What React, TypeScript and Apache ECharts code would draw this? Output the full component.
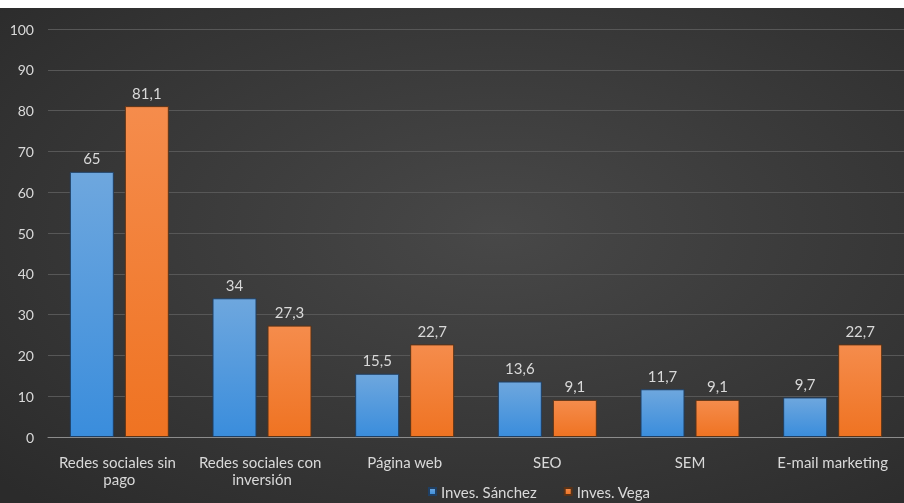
import React, { useEffect, useRef } from "react";
import * as echarts from "echarts";

const categories = [
  "Redes sociales sin pago",
  "Redes sociales con inversión",
  "Página web",
  "SEO",
  "SEM",
  "E-mail marketing",
];
const seriesNames = ["Inves. Sánchez", "Inves. Vega"];
const sanchez = [65, 34, 15.5, 13.6, 11.7, 9.7];
const vega = [81.1, 27.3, 22.7, 9.1, 9.1, 22.7];

const FONT = "Lato, 'Open Sans', sans-serif";
const TXT = "#d9d9d9";

export default function App() {
  const ref = useRef<HTMLDivElement>(null);
  useEffect(() => {
    if (!ref.current) return;
    const chart = echarts.init(ref.current, null, { renderer: "svg" });
    const fmt = (p: any) => String(p.value).replace(".", ",");
    const label = {
      show: true,
      position: "top",
      distance: 6,
      color: TXT,
      fontFamily: FONT,
      fontSize: 15,
      formatter: fmt,
    };
    chart.setOption({
      animation: false,
      backgroundColor: {
        type: "radial",
        x: 0.55,
        y: 0.45,
        r: 0.75,
        colorStops: [
          { offset: 0, color: "#484848" },
          { offset: 1, color: "#2b2b2b" },
        ],
      },
      textStyle: { fontFamily: FONT },
      grid: { left: 48, top: 21, width: 866, height: 408, containLabel: false },
      legend: {
        left: 428,
        top: 476,
        padding: 0,
        itemWidth: 7,
        itemHeight: 7,
        itemGap: 27,
        icon: "rect",
        textStyle: { color: TXT, fontSize: 15, fontFamily: FONT },
        data: seriesNames,
      },
      xAxis: {
        type: "category",
        data: categories,
        axisLine: { lineStyle: { color: "#8c8c8c", width: 1 } },
        axisTick: { show: false },
        axisLabel: {
          interval: 0,
          color: TXT,
          fontSize: 15,
          fontFamily: FONT,
          width: 136,
          overflow: "break",
          lineHeight: 17,
          margin: 16,
        },
      },
      yAxis: {
        type: "value",
        min: 0,
        max: 100,
        interval: 10,
        axisLine: { show: false },
        axisTick: { show: false },
        splitLine: { lineStyle: { color: "#575757", width: 1 } },
        axisLabel: { color: TXT, fontSize: 14, fontFamily: FONT, margin: 14 },
      },
      series: [
        {
          name: seriesNames[0],
          type: "bar",
          data: sanchez,
          barWidth: 44,
          barGap: "25%",
          label,
          itemStyle: {
            color: {
              type: "linear",
              x: 0,
              y: 0,
              x2: 0,
              y2: 1,
              colorStops: [
                { offset: 0, color: "#6ea7de" },
                { offset: 1, color: "#3a8ddc" },
              ],
            },
            borderColor: "#1f3f63",
            borderWidth: 1,
          },
        },
        {
          name: seriesNames[1],
          type: "bar",
          data: vega,
          barWidth: 44,
          label,
          itemStyle: {
            color: {
              type: "linear",
              x: 0,
              y: 0,
              x2: 0,
              y2: 1,
              colorStops: [
                { offset: 0, color: "#f58c4c" },
                { offset: 1, color: "#ef7322" },
              ],
            },
            borderColor: "#5a3317",
            borderWidth: 1,
          },
        },
      ],
    });
    return () => chart.dispose();
  }, []);
  return (
    <div
      ref={ref}
      style={{ position: "fixed", left: 0, top: 8, width: 904, height: 495 }}
    />
  );
}
